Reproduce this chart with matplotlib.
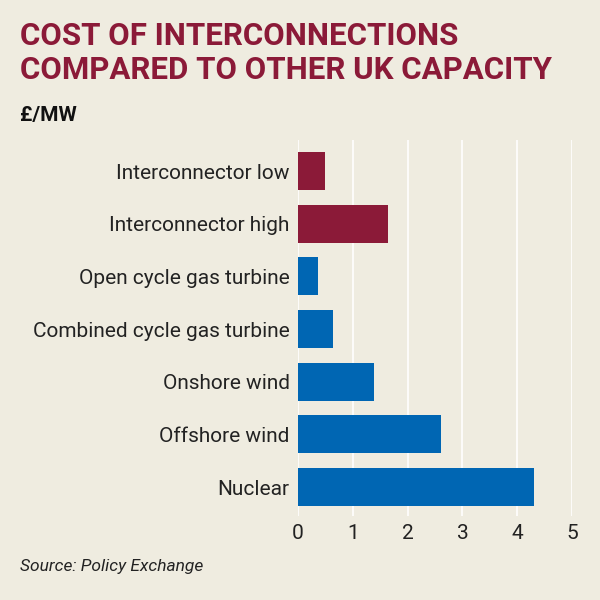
import matplotlib.pyplot as plt

# values (£/MW)
categories = ['Interconnector low', 'Interconnector high', 'Open cycle gas turbine',
              'Combined cycle gas turbine', 'Onshore wind', 'Offshore wind', 'Nuclear']
values = [0.49, 1.64, 0.36, 0.64, 1.39, 2.61, 4.31]
groups = ['inter', 'inter', 'other', 'other', 'other', 'other', 'other']
xticks = [0, 1, 2, 3, 4, 5]

bg = '#efece0'
maroon = '#8b1a38'
blue = '#0066b3'
colors = [maroon if g == 'inter' else blue for g in groups]

fig = plt.figure(figsize=(6, 6), dpi=100, facecolor=bg)
ax = fig.add_axes([298 / 600, 1 - 516 / 600, 274 / 600, 376 / 600], facecolor=bg)

pos = list(range(len(categories)))
ax.barh(pos, values, height=0.72, color=colors, zorder=3)
ax.set_ylim(len(categories) - 0.45, -0.59)
ax.set_xlim(0, 5)
ax.set_xticks(xticks)
ax.set_xticklabels([str(t) for t in xticks], fontsize=15, color='#222222', family='Roboto')
ax.set_yticks(pos)
ax.set_yticklabels(categories, fontsize=15, color='#222222', family='Roboto')
ax.tick_params(length=0, pad=6)
ax.tick_params(axis='x', pad=6)
for t in xticks:
    ax.axvline(t, color='white', lw=1.2, zorder=1)
for s in ax.spines.values():
    s.set_visible(False)

fig.text(20 / 600, 1 - 53 / 600, 'COST OF INTERCONNECTIONS\nCOMPARED TO OTHER UK CAPACITY',
         fontsize=22.5, fontweight='bold', color=maroon, family='Roboto',
         va='center', linespacing=1.2)
fig.text(20 / 600, 1 - 116 / 600, '£/MW', fontsize=15, fontweight='bold',
         color='#111111', family='Roboto', va='center')
fig.text(20 / 600, 1 - 566 / 600, 'Source: Policy Exchange', fontsize=12.5,
         style='italic', color='#222222', family='Roboto', va='center')

fig.savefig('out.png', dpi=100, facecolor=bg)
